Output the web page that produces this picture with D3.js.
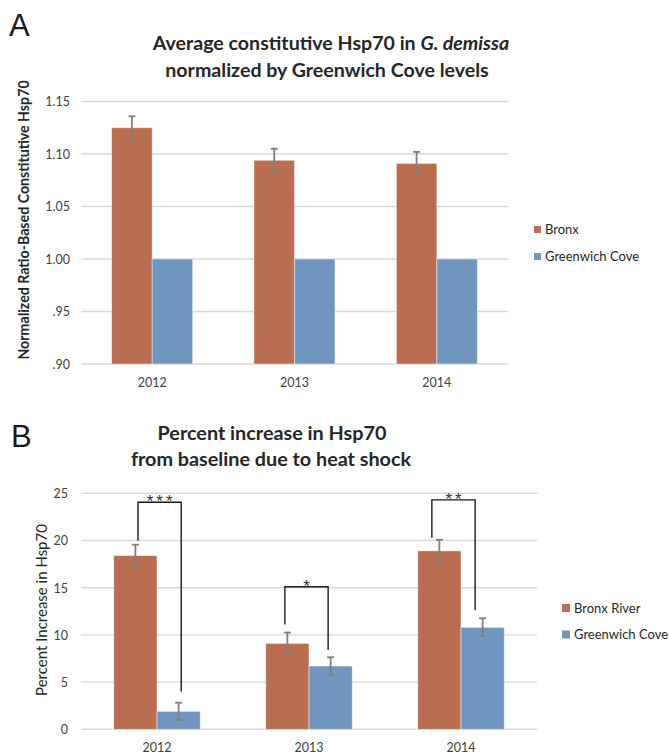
<!DOCTYPE html>
<html>
<head>
<meta charset="utf-8">
<script src="https://cdn.jsdelivr.net/npm/d3@7"></script>
<style>
  html, body { margin: 0; padding: 0; background: #fff; }
  svg { display: block; font-family: Lato, "Open Sans", sans-serif; }
</style>
</head>
<body>
<svg id="chart" width="669" height="755"></svg>
<script>
// ---------- Data ----------
const years = ["2012", "2013", "2014"];

// Panel A
const seriesA = ["Bronx", "Greenwich Cove"];
const bronxA = [1.125, 1.094, 1.091];
const bronxAErr = [0.011, 0.011, 0.011];
const gcA = [1.00, 1.00, 1.00];
const ticksA = [0.90, 0.95, 1.00, 1.05, 1.10, 1.15];
const tickLabelsA = [".90", ".95", "1.00", "1.05", "1.10", "1.15"];

// Panel B
const seriesB = ["Bronx River", "Greenwich Cove"];
const bronxB = [18.4, 9.1, 18.9];
const bronxBErr = [1.15, 1.15, 1.17];
const gcB = [1.9, 6.7, 10.8];
const gcBErr = [0.92, 0.93, 0.96];
const ticksB = [0, 5, 10, 15, 20, 25];

// Significance brackets (values in data units)
const sigLeftBase = [20.0, 11.1, 20.3];
const sigRightBase = [4.0, 8.4, 12.6];
const sigTop = [24.05, 15.1, 24.3];
const sigLabels = ["***", "*", "**"];

// ---------- Styling ----------
const colBronx = "#b96e51";
const colGC = "#7096c0";
const colGrid = "#d9d9d9";
const colErr = "#7f7f7f";
const colText = "#262626";
const colTick = "#404040";
const bracketDx = [2.6, -2.5, -7.5];

const svg = d3.select("#chart");

function panel(opts) {
  const g = svg.append("g");
  const x0 = d3.scaleBand().domain(years).range(opts.xRange).paddingInner(0.431).paddingOuter(0.2155);
  const x1 = d3.scaleBand().domain([0, 1]).range([0, x0.bandwidth()]);
  const y = d3.scaleLinear().domain(opts.yDomain).range(opts.yRange);

  // gridlines
  g.append("g").selectAll("line").data(opts.ticks).join("line")
    .attr("x1", opts.xRange[0]).attr("x2", opts.xRange[1])
    .attr("y1", d => y(d)).attr("y2", d => y(d))
    .attr("stroke", colGrid).attr("stroke-width", 1.4);

  // y axis labels via d3 axis
  const yAxis = d3.axisLeft(y).tickValues(opts.ticks).tickSize(0).tickPadding(0)
    .tickFormat((d, i) => opts.tickLabels[i]);
  const ya = g.append("g").attr("transform", `translate(${opts.tickRight},0)`).call(yAxis);
  ya.select(".domain").remove();
  ya.selectAll("text").attr("font-family", "Lato").attr("font-size", 12.5).attr("fill", colTick).attr("dy", "0.35em");

  // x axis labels
  const xAxis = d3.axisBottom(x0).tickSize(0).tickPadding(0);
  const xa = g.append("g").attr("transform", `translate(0,${opts.xLabelY})`).call(xAxis);
  xa.select(".domain").remove();
  xa.selectAll("text").attr("font-family", "Lato").attr("font-size", 12.5).attr("fill", colTick).attr("dy", 0);

  const base = opts.yDomain[0];
  const sets = [
    { vals: opts.s1, err: opts.e1, color: colBronx },
    { vals: opts.s2, err: opts.e2, color: colGC }
  ];
  sets.forEach((s, si) => {
    g.append("g").selectAll("rect").data(s.vals).join("rect")
      .attr("x", (d, i) => x0(years[i]) + x1(si))
      .attr("width", x1.bandwidth())
      .attr("y", d => y(d))
      .attr("height", d => y(base) - y(d))
      .attr("fill", s.color)
      .attr("stroke", "rgba(255,255,255,0.55)").attr("stroke-width", 0.8);
    if (s.err) {
      const eg = g.append("g").attr("stroke", colErr).attr("stroke-width", 1.8);
      s.vals.forEach((d, i) => {
        const cx = x0(years[i]) + x1(si) + x1.bandwidth() / 2;
        const e = s.err[i];
        eg.append("line").attr("x1", cx).attr("x2", cx).attr("y1", y(d + e)).attr("y2", y(d - e));
        eg.append("line").attr("x1", cx - 3.5).attr("x2", cx + 3.5).attr("y1", y(d + e)).attr("y2", y(d + e));
        eg.append("line").attr("x1", cx - 3.5).attr("x2", cx + 3.5).attr("y1", y(d - e)).attr("y2", y(d - e));
      });
    }
  });

  // legend
  const lg = g.append("g");
  opts.series.forEach((name, i) => {
    const cy = opts.legY[i];
    lg.append("rect").attr("x", opts.legX).attr("y", cy - opts.legSq / 2)
      .attr("width", opts.legSq).attr("height", opts.legSq)
      .attr("fill", i === 0 ? colBronx : colGC);
    lg.append("text").attr("x", opts.legX + opts.legSq + 4).attr("y", cy).attr("dy", "0.36em")
      .attr("font-size", 13).attr("fill", colText).text(name);
  });

  // y title
  g.append("text")
    .attr("transform", `translate(${opts.yTitleX},${opts.yTitleY}) rotate(-90)`)
    .attr("text-anchor", "middle")
    .attr("font-size", opts.yTitleSize).attr("font-weight", opts.yTitleWeight)
    .attr("fill", colText).text(opts.yTitle);

  return { g, x0, x1, y };
}

// ---------- Panel A ----------
svg.append("text").attr("x", 9).attr("y", 36).attr("font-family", "Liberation Sans")
  .attr("font-size", 31).attr("font-weight", 300).attr("fill", "#1a1a1a").text("A");
const tA = svg.append("text").attr("text-anchor", "middle").attr("font-size", 19.6)
  .attr("font-weight", "bold").attr("fill", colText);
const tA1 = tA.append("tspan").attr("x", 331).attr("y", 50);
tA1.append("tspan").text("Average constitutive Hsp70 in ");
tA1.append("tspan").attr("font-style", "italic").text("G. demissa");
tA.append("tspan").attr("x", 327).attr("y", 77).text("normalized by Greenwich Cove levels");

panel({
  xRange: [81, 508], yDomain: [0.90, 1.15], yRange: [364, 101.5],
  ticks: ticksA, tickLabels: tickLabelsA, tickRight: 70, xLabelY: 387,
  s1: bronxA, e1: bronxAErr, s2: gcA, e2: null,
  series: seriesA, legX: 534, legY: [229.5, 256.5], legSq: 7,
  yTitle: "Normalized Ratio-Based Constitutive Hsp70", yTitleX: 29, yTitleY: 220,
  yTitleSize: 14.2, yTitleWeight: "bold"
});

// ---------- Panel B ----------
svg.append("text").attr("x", 11).attr("y", 447).attr("font-family", "Liberation Sans")
  .attr("font-size", 31).attr("font-weight", 300).attr("fill", "#1a1a1a").text("B");
const tB = svg.append("text").attr("text-anchor", "middle").attr("font-size", 19.8)
  .attr("font-weight", "bold").attr("fill", colText);
tB.append("tspan").attr("x", 272).attr("y", 440).text("Percent increase in Hsp70");
tB.append("tspan").attr("x", 271).attr("y", 466).text("from baseline due to heat shock");

const pB = panel({
  xRange: [81, 537], yDomain: [0, 25], yRange: [729.3, 493.3],
  ticks: ticksB, tickLabels: ticksB.map(String), tickRight: 68, xLabelY: 752,
  s1: bronxB, e1: bronxBErr, s2: gcB, e2: gcBErr,
  series: seriesB, legX: 562, legY: [608, 634.5], legSq: 8,
  yTitle: "Percent Increase in Hsp70", yTitleX: 47, yTitleY: 610,
  yTitleSize: 15, yTitleWeight: "normal"
});

// significance brackets
const bg = pB.g.append("g");
years.forEach((yr, i) => {
  const xl = pB.x0(yr) + pB.x1(0) + pB.x1.bandwidth() / 2 + bracketDx[i];
  const xr = pB.x0(yr) + pB.x1(1) + pB.x1.bandwidth() / 2 + bracketDx[i];
  const yt = pB.y(sigTop[i]);
  bg.append("path")
    .attr("d", `M${xl},${pB.y(sigLeftBase[i])}V${yt}H${xr}V${pB.y(sigRightBase[i])}`)
    .attr("fill", "none").attr("stroke", "#1a1a1a").attr("stroke-width", 1.4);
  bg.append("text").attr("x", (xl + xr) / 2 + 1.5).attr("y", yt + 5)
    .attr("text-anchor", "middle").attr("font-family", "Liberation Sans")
    .attr("font-size", 17).attr("letter-spacing", 3)
    .attr("fill", "#333").text(sigLabels[i]);
});
</script>
</body>
</html>
